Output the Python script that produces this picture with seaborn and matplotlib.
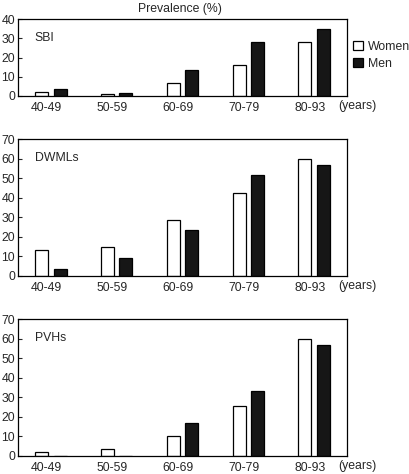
import pandas as pd
import matplotlib.pyplot as plt
import matplotlib.transforms as mtransforms
import seaborn as sns
from matplotlib.patches import Patch

ages = ['40-49', '50-59', '60-69', '70-79', '80-93']
sbi_women = [2, 1, 6.5, 16, 28]
sbi_men = [3.5, 1.3, 13.5, 28, 35]
dwml_women = [13.5, 15, 28.5, 42.5, 60]
dwml_men = [3.5, 9, 23.5, 51.5, 56.5]
pvh_women = [2, 3.5, 10, 25.5, 60]
pvh_men = [0, 0, 17, 33, 56.5]

panels = [
    ('SBI', sbi_women, sbi_men, 40),
    ('DWMLs', dwml_women, dwml_men, 70),
    ('PVHs', pvh_women, pvh_men, 70),
]

sns.set_style('white')
plt.rcParams['font.family'] = ['Liberation Sans', 'DejaVu Sans']
fs = 8.8

W, H = 409, 474
fig = plt.figure(figsize=(W / 100, H / 100), dpi=100)

# axes boxes in pixels: (top, bottom)
boxes = [(19, 96), (139, 276), (319, 456)]
left, right = 18, 347

colors = {'Women': 'white', 'Men': '#161616'}

for (name, women, men, ymax), (top, bottom) in zip(panels, boxes):
    ax = fig.add_axes([left / W, 1 - bottom / H, (right - left) / W, (bottom - top) / H])
    df = pd.DataFrame({
        'age': ages * 2,
        'value': women + men,
        'sex': ['Women'] * 5 + ['Men'] * 5,
    })
    sns.barplot(data=df, x='age', y='value', hue='sex', palette=colors,
                width=0.56, gap=0.29, edgecolor='black', linewidth=0.9,
                legend=False, ax=ax)
    ax.set_xlim(-0.5, 4.5)
    ax.set_ylim(0, ymax)
    ax.set_yticks(range(0, ymax + 1, 10))
    ax.set_xlabel('')
    ax.set_ylabel('')
    ax.tick_params(axis='y', direction='in', length=3, width=0.8, left=True,
                   labelsize=fs, pad=2)
    ax.tick_params(axis='x', length=0, labelsize=fs, pad=4)
    # age labels sit a little left of the bar pairs
    shift = mtransforms.ScaledTranslation(-3 / 72, 0, fig.dpi_scale_trans)
    for lab in ax.get_xticklabels():
        lab.set_transform(lab.get_transform() + shift)
    for s in ax.spines.values():
        s.set_linewidth(0.9)
        s.set_color('black')
    # panel name, fixed distance from the top-left corner
    ax.annotate(name, xy=(0, 1), xycoords='axes fraction', xytext=(12, -13.5),
                textcoords='offset points', fontsize=fs, va='center', ha='left')
    # "(years)" label on the tick-label line
    ax.annotate('(years)', xy=(1, 0), xycoords='axes fraction', xytext=(-6, -7.5),
                textcoords='offset points', fontsize=fs, va='center', ha='left')

fig.text(180 / W, 1 - 9 / H, 'Prevalence (%)', ha='center', va='center', fontsize=fs)

handles = [Patch(facecolor='white', edgecolor='black', linewidth=0.9, label='Women'),
           Patch(facecolor='#161616', edgecolor='black', linewidth=0.9, label='Men')]
fig.legend(handles=handles, loc='upper left', bbox_to_anchor=(348 / W, 1 - 36 / H),
           frameon=False, fontsize=fs, handlelength=0.8, handleheight=0.8,
           handletextpad=0.4, borderaxespad=0, labelspacing=0.4)

fig.savefig('out.png', dpi=100)
